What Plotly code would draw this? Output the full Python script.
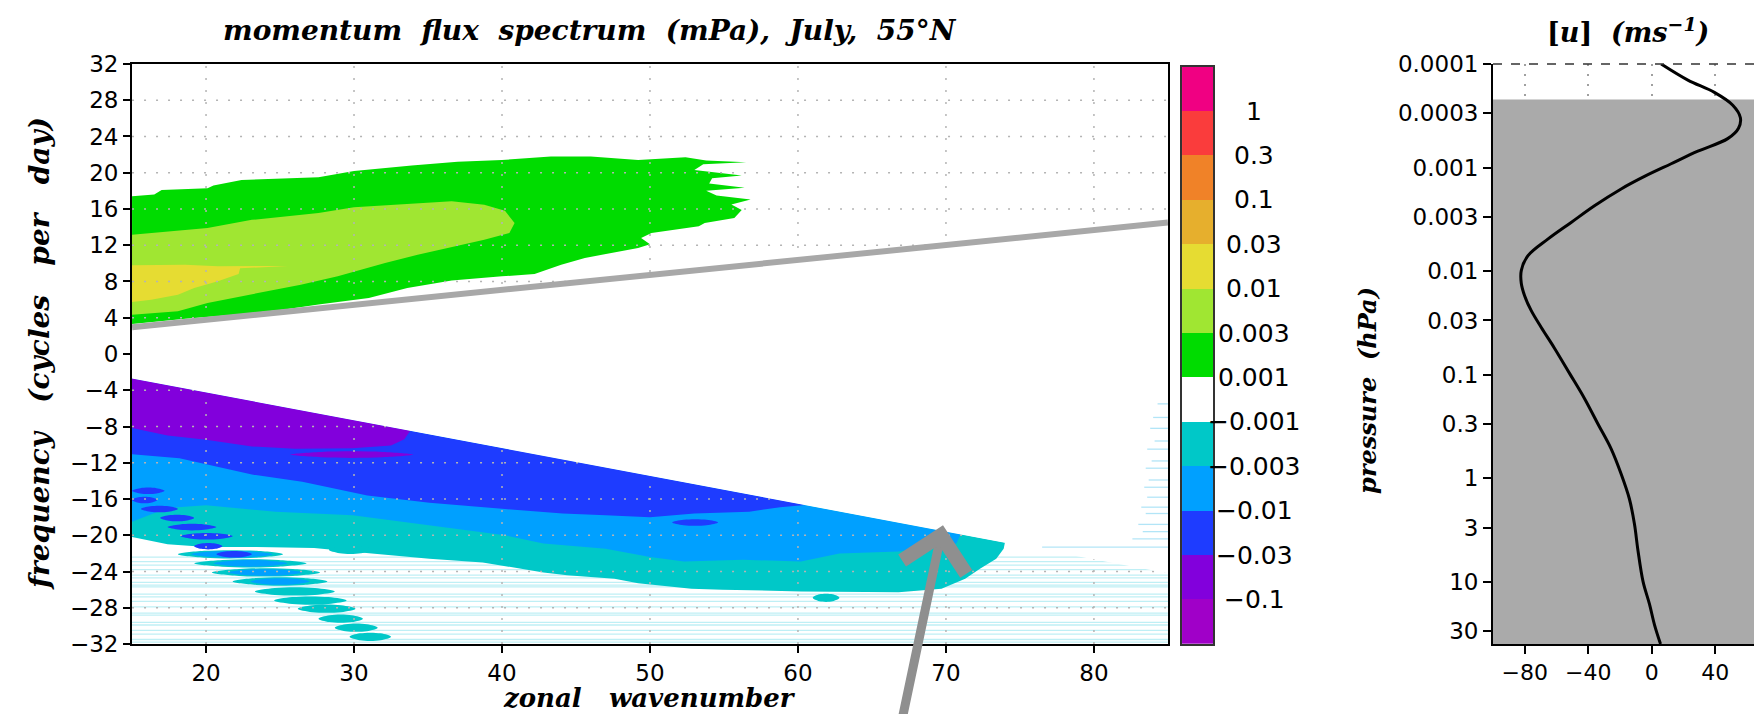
import numpy as np
import plotly.graph_objects as go

# === axis ticks / ranges ===
k_range = [15, 85]
f_range = [-32, 32]
k_ticks = [20, 30, 40, 50, 60, 70, 80]
f_ticks = [-32, -28, -24, -20, -16, -12, -8, -4, 0, 4, 8, 12, 16, 20, 24, 28, 32]

# === positive flux bands (zonal wavenumber, cycles/day) ===
green_k = [15.0, 16.5, 17.0, 20.1, 20.5, 22.4, 27.6, 30.0, 33.9, 37.0, 40.0, 43.3, 46.0, 49.2,
           52.4, 53.8, 56.5, 53.6, 53.0, 55.5, 56.2, 54.2, 54.0, 56.4, 53.8, 54.5, 56.8, 55.5,
           56.2, 55.7, 53.7, 53.3, 50.1, 49.4, 50.0, 49.2, 47.8, 45.6, 44.0, 42.2, 40.0, 36.6,
           33.6, 31.0, 27.6, 25.3, 21.9, 18.6, 15.0]
green_f = [17.4, 17.6, 18.1, 18.3, 18.6, 19.2, 19.5, 20.2, 20.8, 21.2, 21.4, 21.8, 21.8, 21.4,
           21.7, 21.35, 21.15, 20.95, 20.3, 19.85, 19.7, 19.4, 18.8, 18.35, 18.0, 17.5, 17.05, 16.5,
           15.9, 15.0, 14.45, 14.1, 13.35, 12.8, 12.1, 11.7, 11.3, 10.6, 9.86, 8.83, 8.57, 8.1,
           7.28, 6.18, 5.45, 4.9, 4.34, 3.9, 3.3]

ygreen_k = [15.0, 17.4, 20.1, 23.1, 25.3, 27.6, 30.0, 34.3, 36.6, 38.8, 40.2, 40.85, 40.5, 38.8,
            36.6, 34.3, 32.1, 28.9, 26.4, 23.1, 20.1, 18.1, 15.0]
ygreen_f = [13.17, 13.5, 13.9, 14.8, 15.2, 15.56, 16.2, 16.66, 16.85, 16.48, 15.8, 14.46, 13.35, 12.6,
            11.77, 10.96, 10.04, 8.57, 7.65, 6.55, 5.63, 4.71, 4.34]

yellow_k = [15.0, 18.6, 20.8, 25.5, 22.3, 22.2, 20.8, 19.2, 18.1, 16.3, 15.0]
yellow_f = [9.8, 9.86, 9.67, 9.72, 9.45, 8.83, 8.02, 7.28, 6.55, 6.0, 5.74]

# === negative flux bands ===
teal_k = [15.0, 74.0, 74.0, 73.9, 73.4, 72.3, 71.3, 69.7, 66.8, 60.2, 54.9, 52.8, 49.2, 47.6,
          44.4, 42.8, 38.7, 35.1, 31.2, 27.3, 23.4, 20.0, 17.4, 15.0]
teal_f = [-2.7, -20.8, -20.7, -21.5, -22.6, -23.7, -24.8, -25.9, -26.3, -26.2, -26.0, -25.9, -25.3, -24.8,
          -24.4, -24.1, -23.0, -22.6, -22.0, -21.4, -21.3, -21.3, -21.0, -20.2]

lblue_k = [15.0, 71.0, 70.7, 69.4, 66.8, 62.8, 60.2, 56.3, 52.3, 50.0, 47.0, 42.8, 40.2, 35.1,
           29.9, 24.7, 20.0, 17.4, 15.0]
lblue_f = [-2.7, -19.9, -20.9, -21.1, -21.8, -22.0, -22.9, -22.7, -22.9, -22.4, -21.5, -20.9, -20.0, -18.9,
           -17.8, -17.4, -16.7, -17.0, -18.5]

blue_k = [15.0, 60.5, 58.8, 56.7, 53.0, 50.0, 47.0, 44.1, 40.2, 35.1, 30.9, 26.5, 23.1, 18.2, 15.0]
blue_f = [-2.7, -16.66, -16.9, -17.4, -17.6, -18.0, -17.8, -17.6, -17.1, -16.4, -15.6, -14.1, -13.3, -11.5, -11.05]

violet_k = [15.0, 33.8, 33.4, 32.5, 29.9, 26.0, 23.1, 20.0, 17.4, 15.0]
violet_f = [-2.7, -8.47, -9.4, -10.1, -10.4, -10.46, -10.2, -9.47, -9.0, -8.17]

# isolated streaks: frequency, first and last wavenumber
teal_blob_f = [-21.6, -22.1, -23.1, -24.1, -25.1, -26.2, -27.2, -28.1, -29.2, -30.2, -31.2, -26.9]
teal_blob_k0 = [28.3, 18.1, 19.2, 20.4, 21.8, 23.3, 24.6, 26.2, 27.6, 28.7, 29.7, 61.0]
teal_blob_k1 = [31.2, 25.2, 26.8, 27.7, 28.2, 28.7, 29.5, 30.1, 30.6, 31.6, 32.5, 62.8]

lblue_blob_f = [-22.1, -23.1, -24.1, -25.1]
lblue_blob_k0 = [19.0, 20.5, 21.5, 23.0]
lblue_blob_k1 = [24.5, 25.5, 26.5, 27.0]

blue_blob_f = [-15.1, -16.1, -17.1, -18.1, -19.1, -20.1, -21.2, -22.1, -18.6]
blue_blob_k0 = [15.0, 15.0, 15.6, 16.9, 17.4, 18.3, 19.2, 20.7, 51.5]
blue_blob_k1 = [17.2, 16.7, 18.1, 19.2, 20.7, 21.8, 21.1, 23.1, 54.6]

violet_blob_f = [-11.1]
violet_blob_k0 = [25.7]
violet_blob_k1 = [34.0]

# faint near-threshold lines (lower area and right edge)
faint_f = [-22.4, -22.9, -23.3, -23.8, -24.4, -24.7, -25.2, -25.5, -25.7, -26.5, -26.8, -27.3,
           -27.9, -28.6, -28.8, -29.6, -29.9, -30.5, -30.9, -31.5, -31.8]
edge_f = [-5.5, -7.0, -8.2, -9.6, -10.5, -11.8, -12.6, -13.9, -14.7, -15.8, -16.9, -17.6,
          -18.8, -19.6, -20.4, -21.3]
edge_k0 = [84.3, 84.0, 83.8, 84.1, 83.6, 83.9, 83.5, 83.7, 83.4, 83.6, 83.2, 83.5,
           83.0, 83.3, 82.6, 76.5]

# phase speed cut-offs (grey line and masked wedge)
pos_cut_k = [15, 85]
pos_cut_f = [2.95, 14.5]
neg_cut_k = [15, 85]
neg_cut_f = [-2.7, -24.2]

arrow_tip = (69.8, -18.9)
arrow_tail = (67.0, -40.6)

# === colour bar ===
cbar_colors = ['#a000c8', '#8200dc', '#1e3cff', '#00a0ff', '#00c8c8', '#ffffff', '#00dc00',
               '#a0e632', '#e6dc32', '#e6af2d', '#f08228', '#fa3c3c', '#f00082']
cbar_labels = ['\u22120.1', '\u22120.03', '\u22120.01', '\u22120.003', '\u22120.001',
               '0.001', '0.003', '0.01', '0.03', '0.1', '0.3', '1']

# === zonal mean wind profile ===
u_p = [0.0001, 0.000143, 0.000188, 0.00025, 0.00033, 0.000417, 0.000526, 0.000695, 0.00092,
       0.00122, 0.00161, 0.00234, 0.00339, 0.00492, 0.00714, 0.0099, 0.0131, 0.0173, 0.024,
       0.0349, 0.0556, 0.0973, 0.170, 0.298, 0.521, 0.912, 1.59, 2.79, 4.88, 10.0, 16.4, 26.1, 40.0]
u_val = [5.9, 22.7, 39.4, 51.0, 55.8, 54.6, 47.8, 29.0, 12.2,
         -4.6, -19.3, -36.1, -50.8, -65.5, -78.1, -82.2, -82.2, -80.1, -76.0,
         -69.7, -61.3, -51.8, -42.4, -34.0, -25.6, -19.3, -14.1, -10.9, -8.8, -5.5, -1.5, 1.7, 5.5]
shade_p = [0.00022, 0.00022, 40, 40]
shade_u = [-100, 70, 70, -100]
p_ticks = [0.0001, 0.0003, 0.001, 0.003, 0.01, 0.03, 0.1, 0.3, 1, 3, 10, 30]
p_labels = ['0.0001', '0.0003', '0.001', '0.003', '0.01', '0.03', '0.1', '0.3', '1', '3', '10', '30']
u_ticks = [-80, -40, 0, 40]
u_range = [-100, 70]
p_range = [0.0001, 40]


def band(k, f, color):
    return go.Scatter(x=k, y=f, mode='lines', fill='toself', fillcolor=color,
                      line=dict(width=0, color=color), hoverinfo='skip')


def streaks(fs, k0s, k1s, color, h=0.38):
    xs, ys = [], []
    for f, a, b in zip(fs, k0s, k1s):
        q = (b - a) * 0.25
        xs += [a, a + q, b - q, b, b - q, a + q, a, None]
        ys += [f, f + h, f + h, f, f - h, f - h, f, None]
    return go.Scatter(x=xs, y=ys, mode='lines', fill='toself', fillcolor=color,
                      line=dict(width=0, color=color, shape='spline'), hoverinfo='skip')


def hlines(fs, k0s, k1, color, width):
    xs, ys = [], []
    for f, a in zip(fs, k0s):
        xs += [a, k1, None]
        ys += [f, f, None]
    return go.Scatter(x=xs, y=ys, mode='lines', hoverinfo='skip', line=dict(color=color, width=width))


fig = go.Figure()

# faint lines underneath everything
fig.add_trace(hlines(faint_f, [k_range[0]] * len(faint_f), k_range[1], 'rgba(0,190,215,0.25)', 1.3))

# shaded spectrum
fig.add_trace(band(green_k, green_f, cbar_colors[6]))
fig.add_trace(band(ygreen_k, ygreen_f, cbar_colors[7]))
fig.add_trace(band(yellow_k, yellow_f, cbar_colors[8]))
fig.add_trace(band(teal_k, teal_f, cbar_colors[4]))
fig.add_trace(band(lblue_k, lblue_f, cbar_colors[3]))
fig.add_trace(band(blue_k, blue_f, cbar_colors[2]))
fig.add_trace(band(violet_k, violet_f, cbar_colors[1]))
fig.add_trace(streaks(teal_blob_f, teal_blob_k0, teal_blob_k1, cbar_colors[4]))
fig.add_trace(streaks(lblue_blob_f, lblue_blob_k0, lblue_blob_k1, cbar_colors[3], h=0.3))
fig.add_trace(streaks(blue_blob_f, blue_blob_k0, blue_blob_k1, cbar_colors[2], h=0.3))
fig.add_trace(streaks(violet_blob_f, violet_blob_k0, violet_blob_k1, cbar_colors[1], h=0.3))

# dotted grid on top of the shading
gx, gy = [], []
for k in k_ticks:
    gx += [k, k, None]
    gy += [f_range[0], f_range[1], None]
for f in f_ticks[1:-1]:
    gx += [k_range[0], k_range[1], None]
    gy += [f, f, None]
fig.add_trace(go.Scatter(x=gx, y=gy, mode='lines', hoverinfo='skip',
                         line=dict(color='#b4b4b4', width=1.5, dash='2px,10px')))

# masked wedge between cut-offs + grey line
fig.add_trace(go.Scatter(x=pos_cut_k + neg_cut_k[::-1], y=pos_cut_f + neg_cut_f[::-1],
                         mode='lines', fill='toself', fillcolor='white',
                         line=dict(width=0, color='white'), hoverinfo='skip'))
fig.add_trace(hlines(edge_f, edge_k0, k_range[1], 'rgba(0,170,230,0.3)', 1.3))
fig.add_trace(go.Scatter(x=pos_cut_k, y=pos_cut_f, mode='lines', hoverinfo='skip',
                         line=dict(color='#a8a8a8', width=6)))

# colour bar as its own little heatmap
n = len(cbar_colors)
cscale = []
for i, c in enumerate(cbar_colors):
    cscale += [[i / n, c], [(i + 1) / n, c]]
fig.add_trace(go.Heatmap(x=[0], y=list(range(n)), z=[[i] for i in range(n)],
                         colorscale=cscale, zmin=-0.5, zmax=n - 0.5, showscale=False,
                         xaxis='x3', yaxis='y3', hoverinfo='skip'))

# wind profile
fig.add_trace(go.Scatter(x=shade_u, y=shade_p, mode='lines', fill='toself', fillcolor='#aaaaaa',
                         line=dict(width=0, color='#aaaaaa'), xaxis='x2', yaxis='y2', hoverinfo='skip'))
fig.add_trace(go.Scatter(x=u_val, y=u_p, mode='lines', line=dict(color='black', width=3, shape='spline'),
                         xaxis='x2', yaxis='y2'))

tick_font = dict(family='DejaVu Sans', size=23, color='black')
frame = dict(showline=True, linecolor='black', linewidth=2, mirror=True, zeroline=False,
             ticks='outside', ticklen=7, tickwidth=2, tickcolor='black', showgrid=False,
             automargin=False)
bare = dict(showticklabels=False, ticks='', showline=True, linecolor='#333333', linewidth=1.5,
            mirror=True, showgrid=False, zeroline=False, automargin=False)

fig.update_layout(
    width=1762, height=714,
    margin=dict(l=0, r=0, t=0, b=0, autoexpand=False),
    paper_bgcolor='white', plot_bgcolor='white',
    showlegend=False,
    xaxis=dict(domain=[0.0704, 0.6583], range=k_range, tickvals=k_ticks, tickfont=tick_font,
               anchor='y', **frame),
    yaxis=dict(domain=[0.1092, 0.9216], range=f_range, tickvals=f_ticks, tickfont=tick_font,
               anchor='x', **frame),
    xaxis3=dict(domain=[0.6663, 0.6839], range=[-0.5, 0.5], anchor='y3', **bare),
    yaxis3=dict(domain=[0.1092, 0.9178], range=[-0.5, n - 0.5], anchor='x3', **bare),
    xaxis2=dict(domain=[0.8428, 0.9960], range=u_range, tickvals=u_ticks, anchor='y2',
                tickfont=dict(family='DejaVu Sans', size=22, color='black'),
                showline=True, linecolor='black', linewidth=2, mirror=False, zeroline=False,
                ticks='outside', ticklen=8, tickwidth=1.5, tickcolor='black', automargin=False,
                showgrid=True, gridcolor='#a0a0a0', griddash='2px,8px', gridwidth=1.5),
    yaxis2=dict(domain=[0.1092, 0.9216], type='log', anchor='x2',
                range=[np.log10(p_range[1]), np.log10(p_range[0])],
                tickvals=p_ticks, ticktext=p_labels,
                tickfont=dict(family='DejaVu Sans', size=23, color='black'),
                showline=True, linecolor='black', linewidth=2, mirror=True, zeroline=False,
                ticks='outside', ticklen=8, tickwidth=1.5, tickcolor='black', showgrid=False,
                automargin=False),
)

# dashed top edge of the wind panel
fig.add_shape(type='line', xref='x2 domain', yref='y2 domain', x0=0, x1=1, y0=1, y1=1,
              line=dict(color='#333333', width=1.5, dash='dash'))

# colour bar labels, centred on box edges
for i, lab in enumerate(cbar_labels):
    fig.add_annotation(x=0.7074, xref='paper', y=i + 0.5, yref='y3', text=lab, showarrow=False,
                       xanchor='center', yanchor='middle',
                       font=dict(family='DejaVu Sans', size=25, color='black'))

title_font = dict(family='DejaVu Serif', size=28, color='black', style='italic', weight='bold')
axis_font = dict(family='DejaVu Serif', size=28, color='black', style='italic', weight='bold')
x_font = dict(family='DejaVu Serif', size=26, color='black', style='italic', weight='bold')
p_font = dict(family='DejaVu Serif', size=24, color='black', style='italic', weight='bold')
sp = '\u00a0\u00a0'
sp3 = '\u00a0\u00a0\u00a0'


def label(x, y, text, font, angle=0):
    fig.add_annotation(x=x, y=y, xref='paper', yref='paper', showarrow=False, text=text,
                       xanchor='center', yanchor='middle', textangle=angle, font=font)


label(0.3303, 0.968, sp.join(['momentum', 'flux', 'spectrum', '(mPa),', 'July,', '55°N']), title_font)
label(0.3643, 0.034, sp3.join(['zonal', 'wavenumber']), x_font)
label(0.0176, 0.5154, sp3.join(['frequency', '(cycles', 'per', 'day)']), axis_font, -90)
label(0.7718, 0.465, sp.join(['pressure', '(hPa)']), p_font, -90)
label(0.9194, 0.969, '[<i>u</i>]' + sp + '<i>(ms<sup>\u22121</sup>)</i>',
      dict(family='DejaVu Serif', size=27, color='black', weight='bold'))

# grey arrow pointing at the critical-line corner
fig.add_annotation(x=arrow_tip[0], y=arrow_tip[1], ax=arrow_tail[0], ay=arrow_tail[1],
                   xref='x', yref='y', axref='x', ayref='y', text='', showarrow=True,
                   arrowhead=4, arrowsize=1.4, arrowwidth=9, arrowcolor='#8f8f8f', standoff=0)

fig.write_html("out.html")
